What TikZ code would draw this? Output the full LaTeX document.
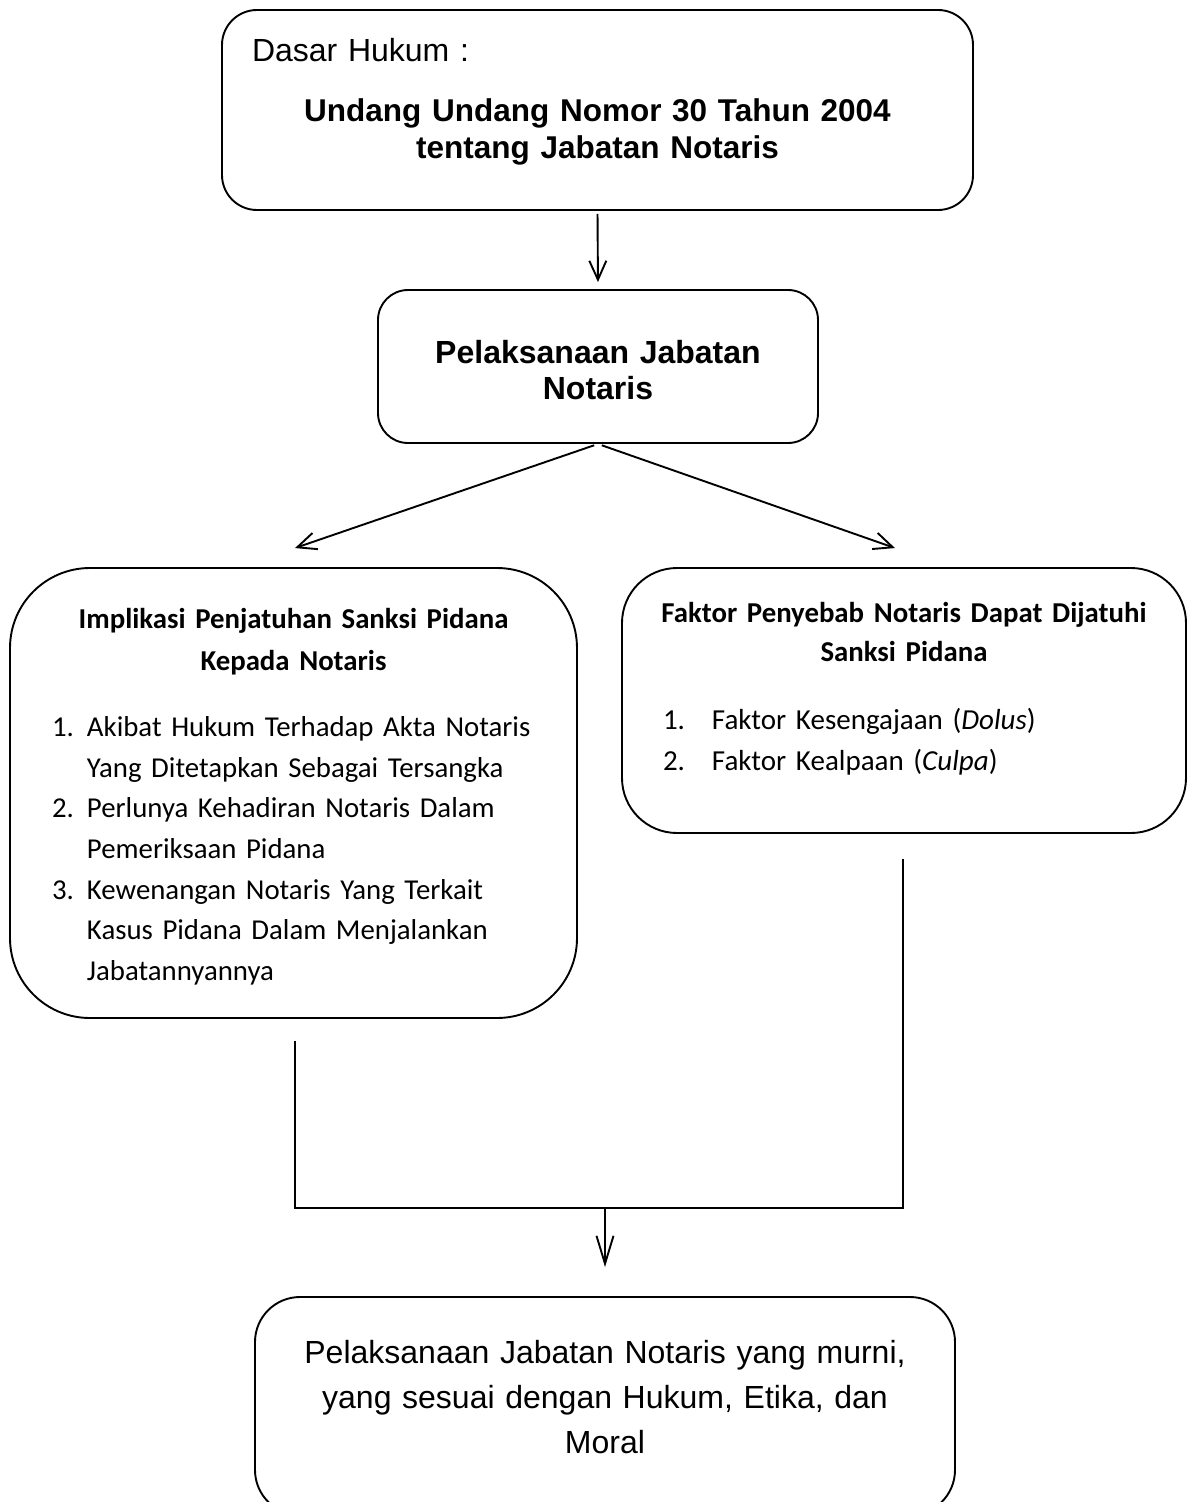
\documentclass[tikz,border=0pt]{standalone}
\usepackage{fontspec}
\setmainfont{Liberation Sans}
\newfontfamily\calibri{Carlito}
\usetikzlibrary{arrows.meta, positioning, calc}

\tikzset{
  roundbox/.style={draw, line width=1.9pt, rounded corners=#1, inner sep=0pt},
  arr/.style={line width=1.9pt, -{Straight Barb[length=19pt, width=17pt]}},
}
% numbered line and its continuation lines
\newcommand{\numline}[3]{\leftline{\makebox[#1][l]{#2}#3}}
\newcommand{\contline}[2]{\leftline{\hspace*{#1}#2}}

\begin{document}
\begin{tikzpicture}[x=1pt, y=-1pt]
  \useasboundingbox (0,0) rectangle (1187,1502);

  % Dasar hukum
  \node[roundbox=35pt, minimum width=751pt, minimum height=200pt, text width=691pt, font=\fontsize{32}{37}\selectfont] (dasar) at (597.5,110) {%
    \hrule height 0pt%
    \leftline{Dasar Hukum :}\vspace{23pt}%
    {\bfseries\fontsize{31.5}{37}\selectfont
     \centerline{Undang Undang Nomor 30 Tahun 2004}%
     \centerline{tentang Jabatan Notaris}}%
    \vspace{16pt}\hrule height 0pt};

  \node[roundbox=30pt, minimum width=440pt, minimum height=153pt, text width=400pt, font=\fontsize{32}{36}\selectfont\bfseries] (pelaksanaan) at (598,366.5) {%
    \hrule height 0pt\vspace{8pt}%
    \centerline{Pelaksanaan Jabatan}%
    \centerline{Notaris}};

  % Two branches
  \node[roundbox=80pt, minimum width=567pt, minimum height=450pt, text width=483pt, font=\calibri\fontsize{28.8}{40.7}\selectfont] (implikasi) at (293.5,793) {%
    \hrule height 0pt\vspace{8pt}%
    {\bfseries\centerline{Implikasi Penjatuhan Sanksi Pidana}\vspace{1pt}\centerline{Kepada Notaris}}%
    \vspace{25pt}%
    \numline{35pt}{1.}{Akibat Hukum Terhadap Akta Notaris}
    \contline{35pt}{Yang Ditetapkan Sebagai Tersangka}
    \numline{35pt}{2.}{Perlunya Kehadiran Notaris Dalam}
    \contline{35pt}{Pemeriksaan Pidana}
    \numline{35pt}{3.}{Kewenangan Notaris Yang Terkait}
    \contline{35pt}{Kasus Pidana Dalam Menjalankan}
    \contline{35pt}{Jabatannyannya}};

  \node[roundbox=55pt, minimum width=564pt, minimum height=265pt, text width=482pt, font=\calibri\fontsize{29}{41}\selectfont] (faktor) at (904,700.5) {%
    \hrule height 0pt%
    {\bfseries\fontsize{28.8}{39}\selectfont
     \centerline{Faktor Penyebab Notaris Dapat Dijatuhi}%
     \centerline{Sanksi Pidana}}%
    \vspace{27pt}%
    \numline{49pt}{1.}{Faktor Kesengajaan (\textit{Dolus})}
    \numline{49pt}{2.}{Faktor Kealpaan (\textit{Culpa})}
    \vspace{24pt}\hrule height 0pt};

  % Result
  \node[roundbox=45pt, minimum width=700pt, minimum height=218pt, text width=640pt, font=\fontsize{32}{45}\selectfont] (murni) at (605,1406) {%
    \hrule height 0pt%
    \centerline{Pelaksanaan Jabatan Notaris yang murni,}%
    \centerline{yang sesuai dengan Hukum, Etika, dan}%
    \centerline{Moral}%
    \vspace{18pt}\hrule height 0pt};

  % Connectors
  \coordinate (splitL) at ($(implikasi.north)+(1.5,-19)$);
  \coordinate (splitR) at ($(faktor.north)+(-9,-19)$);
  \coordinate (joinL) at ($(implikasi.south)+(1.5,22)$);
  \coordinate (joinR) at ($(faktor.south)+(-1,25)$);
  \coordinate (merge) at (605,1208);

  \draw[arr, shorten <=3pt, shorten >=7pt] (dasar.south) -- (pelaksanaan.north);
  \draw[arr, shorten <=4pt] (pelaksanaan.south) -- (splitL);
  \draw[arr, shorten <=4pt] (pelaksanaan.south) -- (splitR);
  \draw[line width=1.7pt] (joinL) |- (merge) -| (joinR);
  \draw[line width=1.9pt, -{Straight Barb[length=28pt, width=17pt]}, shorten >=29pt] (merge) -- (murni.north);
\end{tikzpicture}
\end{document}
